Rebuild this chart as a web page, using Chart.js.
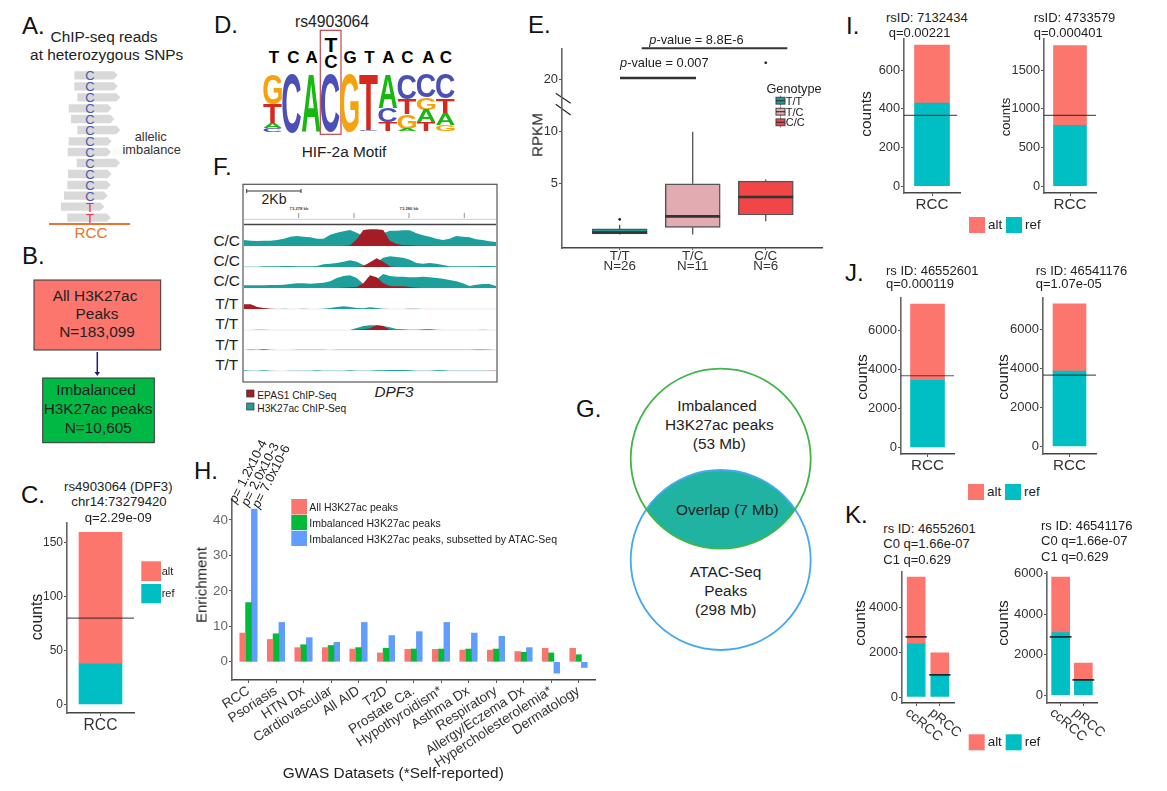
<!DOCTYPE html>
<html lang="en">
<head>
<meta charset="UTF-8">
<title>Allelic imbalance figure</title>
<script src="https://cdn.jsdelivr.net/npm/chart.js"></script>
<style>
  html, body { margin: 0; background: #fff; }
  #page { position: relative; width: 1167px; height: 791px; overflow: hidden; font-family: "Liberation Sans", Arial, sans-serif; color: #222; }
  #page canvas { position: absolute; }
  #page svg { position: absolute; left: 0; top: 0; pointer-events: none; }
  .t { position: absolute; white-space: nowrap; line-height: 1; }
</style>
</head>
<body>
<div id="page"></div>
<script>
// ---- data ----
const REF = '#00BFC4', ALT = '#FC766E';

// C
const cRef = [37.6], cAlt = [121.9], cMid = [80], cTicks = [0, 50, 100, 150];
// I
const iLeftRef = [430], iLeftAlt = [300], iLeftMid = [366], iLeftTicks = [0, 200, 400, 600];
const iRightRef = [786], iRightAlt = [1031], iRightMid = [915], iRightTicks = [0, 500, 1000, 1500];
// J
const jLeftRef = [3442], jLeftAlt = [3924], jLeftMid = [3683];
const jRightRef = [3867], jRightAlt = [3454], jRightMid = [3663], jTicks = [0, 2000, 4000, 6000];
// K
const kLabels = ['ccRCC', 'pRCC'];
const kLeftRef = [2382, 984], kLeftAlt = [2956, 984], kLeftMid = [2673, 984], kLeftTicks = [0, 2000, 4000];
const kRightRef = [3088, 770], kRightAlt = [2745, 813], kRightMid = [2873, 750], kRightTicks = [0, 2000, 4000, 6000];

// E (RPKM)
const boxLabels = [['T/T', 'N=26'], ['T/C', 'N=11'], ['C/C', 'N=6']];
const boxQ1 = [0.05, 0.7, 1.9], boxMedian = [0.2, 1.77, 3.65], boxQ3 = [0.55, 4.94, 5.2];
const whiskerLow = [0, 0, 1.29], whiskerHigh = [0.96, 10, 5.35];
const outlierGroup = [1, 3], outlierValue = [1.48, 23.1];
const boxColors = ['#1b9a98', '#e2abb1', '#f14548'];
const rpkmTicks = [5, 10, 20];

// H
const gwasLabels = ['RCC', 'Psoriasis', 'HTN Dx', 'Cardiovascular', 'All AID', 'T2D', 'Prostate Ca.', 'Hypothyroidism*', 'Asthma Dx', 'Respiratory', 'Allergy/Eczema Dx', 'Hypercholesterolemia*', 'Dermatology'];
const allPeaks = [8.1, 6.3, 4.0, 4.0, 3.6, 2.5, 3.5, 3.5, 3.3, 3.3, 2.9, 3.8, 3.8];
const imbalancedPeaks = [16.7, 7.9, 4.8, 4.6, 4.0, 3.8, 3.6, 3.6, 3.6, 3.6, 2.7, 2.5, 2.0];
const atacPeaks = [43.1, 11.1, 6.8, 5.5, 11.1, 7.4, 8.5, 11.1, 8.1, 7.2, 4.0, -3.2, -1.6];
const enrichTicks = [0, 10, 20, 30, 40];

// D: motif logo, letters top to bottom per position
const logoLetters = ['GTAC', 'C', 'A', 'C', 'G', 'TC', 'ACT', 'CTGA', 'CGAT', 'CTAG'];
const logoHeights = [[90, 56, 15, 10], [175], [170], [170], [170], [165, 5], [100, 43, 27], [75, 45, 43, 7], [70, 36, 37, 27], [73, 43, 35, 19]];
const logoColors = { G: '#f5a20b', C: '#4a50b6', A: '#17b80f', T: '#d5281e' };

// F: signal tracks along the locus
const track1Teal = [18,16,15,16,16,18,22,28,30,28,26,22,22,34,40,44,48,40,30,20,30,38,46,46,47,47,38,32,28,22,18,22,30,28,26,20,18,14,12];
const track1Red  = [0,0,0,0,0,0,0,0,0,0,0,0,0,0,0,0,2,20,48,50,50,48,16,6,3,2,1,1,1,0,0,0,0,0,0,0,0,0,0];
const track2Teal = [1,1,1,2,2,2,3,3,2,2,2,3,8,10,12,16,20,16,6,8,14,28,32,30,28,22,12,10,12,10,6,2,2,2,2,2,3,3,2];
const track2Red  = [0,0,0,0,0,0,0,0,0,0,0,0,0,0,0,0,0,0,2,14,26,16,2,0,0,0,0,0,0,0,0,0,0,0,0,0,0,0,0];
const track3Teal = [8,8,8,8,9,9,10,12,14,14,13,14,16,20,30,36,38,30,12,18,26,42,36,34,34,32,32,34,32,30,28,24,20,14,6,10,12,12,6];
const track3Red  = [0,0,0,0,0,0,0,0,0,0,0,0,0,0,0,1,2,3,14,38,32,14,6,5,5,3,1,0,0,0,0,0,0,0,0,0,0,0,0];
const track4Teal = [1,1,2,1,0,0,1,0,0,1,0,0,1,3,6,8,6,3,2,5,3,1,0,0,0,0,1,0,0,0,0,0,0,0,0,0,0,0,0];
const track4Red  = [14,14,6,3,1,0,0,0,0,0,0,0,0,0,0,0,0,0,0,0,0,0,0,0,0,1,0,0,0,0,0,0,0,0,0,0,0,0,0];
const track5Teal = [0,0,1,1,0,0,0,0,0,0,0,0,0,0,0,0,0,6,12,14,14,12,8,3,2,1,1,2,3,1,0,0,0,0,0,0,1,0,0];
const track5Red  = [0,0,0,0,0,0,0,0,0,0,0,0,0,0,0,0,0,1,2,5,14,12,1,0,0,0,0,0,0,0,0,0,0,0,0,0,0,0,0];
const track6Teal = [0,1,1,3,1,0,0,0,1,1,1,1,1,0,1,1,1,1,1,1,1,1,1,1,1,1,1,1,1,1,1,1,1,1,1,1,1,0,0];
const track6Red  = [0,1,0,0,0,0,0,0,0,0,0,0,0,0,0,0,0,0,0,0,0,0,0,0,0,0,0,0,0,0,0,0,0,0,0,1,1,1,0];
const track7Teal = [2,1,1,2,1,0,0,1,1,1,1,2,1,1,1,1,2,1,1,1,2,2,3,3,3,2,1,1,1,2,2,1,1,1,1,1,1,0,0];
const track7Red  = [0,0,0,0,0,0,0,0,0,0,0,0,0,0,0,0,0,0,0,0,0,0,0,0,0,0,0,0,0,0,0,0,0,0,0,0,0,1,1];
const tracks = [[track1Teal, track1Red], [track2Teal, track2Red], [track3Teal, track3Red], [track4Teal, track4Red], [track5Teal, track5Red], [track6Teal, track6Red], [track7Teal, track7Red]];
const trackGenotypes = ['C/C', 'C/C', 'C/C', 'T/T', 'T/T', 'T/T', 'T/T'];

// ---- helpers ----
const page = document.getElementById('page');
const NS = 'http://www.w3.org/2000/svg';
const overlay = document.createElementNS(NS, 'svg');
overlay.setAttribute('width', 1167);
overlay.setAttribute('height', 791);
page.appendChild(overlay);

Chart.defaults.font.family = '"Liberation Sans", Arial, sans-serif';
Chart.defaults.color = '#333';
Chart.defaults.animation = false;
Chart.defaults.responsive = false;
Chart.defaults.plugins.legend.display = false;
Chart.defaults.plugins.tooltip.enabled = false;

function text(x, y, str, size, o = {}) {
  const d = document.createElement('div');
  d.className = 't';
  d.innerHTML = str;
  d.style.left = x + 'px';
  d.style.top = y + 'px';
  d.style.fontSize = size + 'px';
  if (o.color) d.style.color = o.color;
  if (o.weight) d.style.fontWeight = o.weight;
  if (o.italic) d.style.fontStyle = 'italic';
  const ax = o.left ? 0 : -50;
  if (o.left) d.style.transformOrigin = 'left center';
  d.style.transform = `translate(${ax}%, -50%) rotate(${o.rot || 0}deg)`;
  page.appendChild(d);
}
function shape(tag, attrs) {
  const el = document.createElementNS(NS, tag);
  for (const k in attrs) el.setAttribute(k, attrs[k]);
  overlay.appendChild(el);
  return el;
}
const rect = (x, y, w, h, fill, extra = {}) => shape('rect', { x, y, width: w, height: h, fill, ...extra });
const line = (x1, y1, x2, y2, stroke, w = 1) => shape('line', { x1, y1, x2, y2, stroke, 'stroke-width': w });

function canvas(left, top, w, h) {
  const c = document.createElement('canvas');
  c.width = w;
  c.height = h;
  c.style.left = left + 'px';
  c.style.top = top + 'px';
  page.appendChild(c);
  return c;
}

// x is linear with one unit per group, ticks come from the named lists
function scales(o) {
  return {
    x: {
      type: 'linear', min: o.xMin, max: o.xMax, offset: false,
      afterFit: s => { s.height = o.below; },
      afterBuildTicks: s => { s.ticks = o.labels.map((_, i) => ({ value: i + 1 })); },
      border: { color: '#444', width: 1.4 },
      grid: { offset: false, drawOnChartArea: false, tickLength: 3, tickColor: '#555' },
      ticks: {
        autoSkip: false, padding: o.xPad || 0, display: !o.slant,
        minRotation: o.rot || 0, maxRotation: o.rot || 0,
        font: { size: o.xSize, lineHeight: o.xLine || 1.2 }, color: '#333',
        callback: v => o.labels[v - 1]
      }
    },
    y: {
      min: o.yMin, max: o.yMax,
      afterFit: s => { s.width = o.gutter; },
      afterBuildTicks: s => { s.ticks = o.yTicks.map(v => ({ value: v })); },
      border: { color: '#666', width: 1.6 },
      grid: { drawOnChartArea: false, tickLength: 3, tickColor: '#555' },
      ticks: {
        padding: 1, font: { size: o.ySize }, color: o.yColor || '#333',
        callback: o.yLabel || (v => v)
      }
    }
  };
}

// tick labels leaning down to the right, the library only leans them the other way
const slantLabels = {
  id: 'slantLabels',
  afterDraw(chart, args, opts) {
    const sx = chart.scales.x, ctx = chart.ctx;
    if (!opts.labels) return;
    sx.ticks.forEach(t => {
      ctx.save();
      ctx.translate(sx.getPixelForValue(t.value) - 9, sx.top + 8);
      ctx.rotate(40 * Math.PI / 180);
      ctx.font = '13.7px "Liberation Sans"';
      ctx.fillStyle = '#333';
      ctx.textBaseline = 'middle';
      ctx.fillText(opts.labels[t.value - 1], 0, 0);
      ctx.restore();
    });
  }
};
Chart.register(slantLabels);

// stacked ref/alt bars with the half-total line on top
function countChart(o) {
  const gutter = 46, pad = 8, right = 24;
  const w = o.right - o.left, h = o.bottom - o.top;
  const below = o.slant ? 50 : 28;
  const labels = o.labels || ['RCC'];
  const xMin = 0.4, xMax = labels.length + 0.6;
  const midPoints = [];
  o.mid.forEach((v, i) => {
    const half = o.lineHalf;
    if (half) {
      midPoints.push({ x: i + 1 - half, y: v }, { x: i + 1 + half, y: v }, { x: i + 1.5, y: null });
    } else {
      midPoints.push({ x: xMin, y: v }, { x: xMax - (o.lineCut || 0), y: v });
    }
  });
  new Chart(canvas(o.left - gutter, o.top - pad, gutter + w + right, pad + h + below), {
    type: 'bar',
    data: {
      datasets: [
        { type: 'line', data: midPoints, borderColor: o.lineHalf ? 'rgba(20,20,20,.85)' : 'rgba(20,20,20,.7)', borderWidth: o.lineHalf ? 1.8 : 1.1, pointRadius: 0, order: 0 },
        { label: 'ref', stack: 's', data: o.ref.map((v, i) => ({ x: i + 1, y: v })), backgroundColor: REF, barThickness: o.thick, order: 1 },
        { label: 'alt', stack: 's', data: o.alt.map((v, i) => ({ x: i + 1, y: v })), backgroundColor: ALT, barThickness: o.thick, order: 1 }
      ]
    },
    options: {
      layout: { padding: { top: pad, right, left: 0, bottom: 0 } },
      plugins: { slantLabels: { labels: o.slant ? labels : null } },
      scales: (() => {
        const s = scales({ xMin, xMax, labels, below, gutter, slant: o.slant, xSize: o.xSize || 15.2, yMin: o.yMin, yMax: o.yMax, yTicks: o.yTicks, ySize: o.ySize || 12.8 });
        s.y.stacked = true;
        return s;
      })()
    }
  });
}

function legendAltRef(x, y, size = 13.4) {
  rect(x, y, 16, 16, ALT);
  text(x + 19, y + 8, 'alt', size, { left: true });
  rect(x + 37, y, 16, 16, REF);
  text(x + 56, y + 8, 'ref', size, { left: true });
}

// ---- panel letters ----
[['A.', 22, 26], ['D.', 214, 25], ['F.', 213, 167], ['B.', 22, 256], ['C.', 21, 495], ['E.', 528, 25], ['G.', 576, 409], ['H.', 194, 471], ['I.', 846, 26], ['J.', 845, 273], ['K.', 845, 515]]
  .forEach(([s, x, y]) => text(x, y, s, 24, { left: true, color: '#111' }));

// ---- A ----
const readRows = [[223,353,226,'C'],[223,353,259,'C'],[232,361,292,'C'],[206,335,325,'C'],[213,343,357,'C'],[232,361,390,'C'],[206,335,424,'C'],[203,333,456,'C'],[230,360,489,'C'],[204,335,522,'C'],[202,332,555,'C'],[192,323,587,'C'],[183,313,620,'T'],[202,332,653,'T']];
readRows.forEach(([a, b, y, base]) => {
  const l = a / 3, r = b / 3, m = y / 3;
  shape('polygon', { points: `${l},${m - 4.2} ${r - 4},${m - 4.2} ${r},${m} ${r - 4},${m + 4.2} ${l},${m + 4.2}`, fill: '#d9d9d9' });
  text(90, m, base, 13, { color: base === 'T' ? '#e8334a' : '#4a5ab0' });
});
text(104, 37, 'ChIP-seq reads', 15.4);
text(106.7, 55.3, 'at heterozygous SNPs', 15.4);
text(150.7, 137, 'allelic', 12.8, { color: '#333' });
text(151.7, 150, 'imbalance', 12.8, { color: '#333' });
line(49, 224, 130, 224, '#e8742f', 2);
text(91, 233, 'RCC', 15.2, { color: '#e8742f' });

// ---- B ----
rect(34, 280, 126.7, 70, ALT, { stroke: '#333', 'stroke-width': 1 });
rect(42.7, 378, 111.6, 64.7, '#00B945', { stroke: '#333', 'stroke-width': 1 });
line(97.3, 352, 97.3, 372, '#221a6e', 1.5);
shape('polygon', { points: '94.5,372 100,372 97.3,376', fill: '#221a6e' });
text(95, 295.7, 'All H3K27ac', 15.4);
text(97, 314, 'Peaks', 15.4);
text(97, 332.3, 'N=183,099', 15.4);
text(96, 390, 'Imbalanced', 15.4);
text(98, 409, 'H3K27ac peaks', 15.4);
text(98.3, 427.7, 'N=10,605', 15.4);

// ---- C ----
countChart({ left: 67, right: 134, top: 523, bottom: 713, ref: cRef, alt: cAlt, mid: cMid, yMin: -8, yMax: 168, yTicks: cTicks, thick: 43, ySize: 12, xSize: 15.6 });
text(118.3, 486.7, 'rs4903064 (DPF3)', 13.2);
text(119, 501.7, 'chr14:73279420', 13.2);
text(118.3, 517.7, 'q=2.29e-09', 13.2);
text(36.5, 616.7, 'counts', 15.8, { rot: -90 });
rect(141.3, 561.3, 19.7, 19.7, ALT);
rect(141.3, 584, 19.7, 19.3, REF);
text(161.7, 571, 'alt', 11, { left: true });
text(161.7, 593.3, 'ref', 11, { left: true });

// ---- D ----
const logoLetterPlugin = {
  id: 'logoLetters',
  afterDatasetsDraw(chart) {
    const ctx = chart.ctx;
    ctx.font = 'bold 100px "Liberation Sans"';
    chart.data.datasets.forEach((ds, di) => {
      chart.getDatasetMeta(di).data.forEach((bar, col) => {
        const letter = logoLetters[col][di];
        if (!letter) return;
        const top = Math.min(bar.y, bar.base), h = Math.abs(bar.base - bar.y), w = bar.width;
        const m = ctx.measureText(letter);
        const inkW = m.actualBoundingBoxLeft + m.actualBoundingBoxRight;
        const inkH = m.actualBoundingBoxAscent + m.actualBoundingBoxDescent;
        ctx.save();
        ctx.translate(bar.x - w / 2, top);
        ctx.scale(w / inkW, h / inkH);
        ctx.fillStyle = logoColors[letter];
        ctx.fillText(letter, m.actualBoundingBoxLeft, m.actualBoundingBoxAscent);
        ctx.restore();
      });
    });
  }
};
new Chart(canvas(263, 74, 192, 59), {
  type: 'bar',
  data: {
    labels: logoLetters.map((_, i) => i + 1),
    datasets: [0, 1, 2, 3].map(level => ({
      data: logoHeights.map(col => col[level] || 0),
      backgroundColor: 'transparent',
      categoryPercentage: 1, barPercentage: 0.97
    }))
  },
  options: {
    layout: { padding: 0 },
    scales: {
      x: { display: false, stacked: true },
      y: { display: false, stacked: true, reverse: true, min: 0, max: 175 }
    }
  },
  plugins: [logoLetterPlugin]
});
text(332, 21.7, 'rs4903064', 15.7);
[['T', 192], ['C', 250], ['A', 305], ['G', 420], ['T', 478], ['A', 535], ['C', 592], ['A', 655], ['C', 708]]
  .forEach(([s, zx]) => text(210 + zx / 3, 56.7, s, 17, { weight: 'bold', color: '#000' }));
text(331, 43.5, 'T', 21, { weight: 'bold', color: '#000' });
text(331, 61.7, 'C', 18.5, { weight: 'bold', color: '#000' });
rect(320.3, 30.3, 20.7, 104, 'none', { stroke: '#c4444e', 'stroke-width': 1.2 });
text(344, 152, 'HIF-2a Motif', 15.4);

// ---- F ----
rect(243, 184.3, 254, 197.7, 'none', { stroke: '#555', 'stroke-width': 1.2 });
line(246.7, 191, 301, 191, '#333', 1);
line(246.7, 189, 246.7, 193, '#333', 1);
line(301, 189, 301, 193, '#333', 1);
text(274, 199, '2Kb', 14);
text(299, 209.3, '73,278 kb', 4.2, { weight: 'bold', color: '#444' });
text(409, 209.3, '73,280 kb', 4.2, { weight: 'bold', color: '#444' });
[298.7, 354, 409, 464.3].forEach(x => line(x, 213, x, 218, '#777', 0.8));
line(244, 219.3, 496, 219.3, '#d5d5e5', 1.2);
line(244, 224.5, 496, 224.5, '#444', 1.4);

const trackBase = [246, 267, 287.7, 308.7, 329.7, 350.3, 371.3];
const trackLabelY = [240.7, 261.3, 281, 304, 324, 345.3, 365];
tracks.forEach(([teal, red], i) => {
  const top = Math.round(trackBase[i]) - 18;
  line(244, Math.round(trackBase[i]), 496, Math.round(trackBase[i]), '#e4e4e8', 0.8);
  new Chart(canvas(244, top, 252, 18), {
    type: 'line',
    data: {
      labels: teal.map((_, k) => k),
      datasets: [
        { data: red, fill: 'origin', backgroundColor: '#a31c26', borderWidth: 0, pointRadius: 0 },
        { data: teal, fill: 'origin', backgroundColor: '#1d9f9c', borderWidth: 0, pointRadius: 0 }
      ]
    },
    options: {
      layout: { padding: 0 },
      scales: { x: { display: false }, y: { display: false, min: 0, max: 54 } }
    }
  });
  text(226.7, trackLabelY[i], trackGenotypes[i], 15.4);
});
rect(246.7, 390, 7.3, 7, '#a31c26', { stroke: '#333', 'stroke-width': 0.7 });
rect(246.7, 403, 7.3, 7, '#1d9f9c', { stroke: '#333', 'stroke-width': 0.7 });
text(257.3, 395.7, 'EPAS1 ChIP-Seq', 10.2, { left: true });
text(257.3, 408.5, 'H3K27ac ChIP-Seq', 10.2, { left: true });
text(394, 392, 'DPF3', 15.3, { italic: true });

// ---- E ----
// values above the break are squeezed, ticks go through the same mapping
const squash = v => (v <= 10 ? v : 10 + (v - 10) * 0.513);
const centers = boxLabels.map((_, i) => i + 1);
const whiskers = [];
centers.forEach((x, i) => {
  whiskers.push({ x, y: whiskerLow[i] }, { x, y: boxQ1[i] }, { x, y: null }, { x, y: boxQ3[i] }, { x, y: whiskerHigh[i] }, { x, y: null });
});
const medians = [];
centers.forEach((x, i) => {
  medians.push({ x: x - 0.375, y: boxMedian[i] }, { x: x + 0.375, y: boxMedian[i] }, { x, y: null });
});
const eScales = scales({
  xMin: 0.21, xMax: 3.77, labels: boxLabels, below: 42, gutter: 40, xSize: 13.4, xLine: 0.76, xPad: 1,
  yMin: -1.31, yMax: 18.08, yTicks: rpkmTicks.map(squash), ySize: 12.9, yColor: '#333',
  yLabel: (v, i) => rpkmTicks[i]
});
eScales.x.grid.tickLength = 2;
new Chart(canvas(522, 40, 310, 250), {
  type: 'bar',
  data: {
    datasets: [
      { type: 'scatter', showLine: true, data: medians, borderColor: '#333', borderWidth: 2.6, pointRadius: 0, order: 0 },
      { type: 'scatter', data: outlierGroup.map((x, i) => ({ x, y: squash(outlierValue[i]) })), backgroundColor: '#222', pointRadius: 1.3, order: 0 },
      { data: centers.map((x, i) => ({ x, y: [boxQ1[i], boxQ3[i]] })), backgroundColor: boxColors, borderColor: '#555', borderWidth: 1.5, borderSkipped: false, barThickness: 55, order: 1 },
      { type: 'scatter', showLine: true, data: whiskers, borderColor: '#444', borderWidth: 1.2, pointRadius: 0, order: 2 }
    ]
  },
  options: { layout: { padding: { top: 8, right: 10 } }, scales: eScales }
});
text(536.5, 134.5, 'RPKM', 15.2, { rot: -90 });
line(555.7, 93.3, 570.7, 103.3, '#222', 1.1);
line(555.7, 104.3, 570.7, 115, '#222', 1.1);
line(641.7, 48.3, 787.3, 48.3, '#333', 2);
line(620, 78, 696, 78, '#333', 2.4);
text(649.3, 40, '<i>p</i>-value = 8.8E-6', 12.8, { left: true });
text(620, 63.3, '<i>p</i>-value = 0.007', 12.8, { left: true });
text(794, 88.7, 'Genotype', 12.7);
['T/T', 'T/C', 'C/C'].forEach((s, i) => {
  const y = [100.7, 111.7, 122.3][i];
  line(780.5, y - 5, 780.5, y + 5, '#444', 0.8);
  rect(776, y - 3.4, 9, 6.8, boxColors[i], { stroke: '#444', 'stroke-width': 1 });
  line(776, y, 785, y, '#333', 1.2);
  text(785.7, y, s, 11, { left: true });
});

// ---- G ----
const lensClip = shape('clipPath', { id: 'lens' });
const clipCircle = document.createElementNS(NS, 'circle');
clipCircle.setAttribute('cx', 720.7); clipCircle.setAttribute('cy', 458.7); clipCircle.setAttribute('r', 90);
lensClip.appendChild(clipCircle);
shape('circle', { cx: 720.7, cy: 560, r: 90, fill: '#21b3a2', 'clip-path': 'url(#lens)' });
shape('circle', { cx: 720.7, cy: 560, r: 90, fill: 'none', stroke: '#45a9ee', 'stroke-width': 1.8 });
shape('circle', { cx: 720.7, cy: 458.7, r: 90, fill: 'none', stroke: '#3fb54a', 'stroke-width': 1.8 });
text(717, 406, 'Imbalanced', 15.4);
text(719.3, 425, 'H3K27ac peaks', 15.4);
text(719.3, 443.7, '(53 Mb)', 15.4);
text(727.3, 510, 'Overlap (7 Mb)', 15.4);
text(725.7, 572.3, 'ATAC-Seq', 15.4);
text(725.7, 591, 'Peaks', 15.4);
text(725.7, 610, '(298 Mb)', 15.4);

// ---- H ----
const hScales = scales({
  xMin: 0.4, xMax: 13.6, labels: gwasLabels, below: 95, gutter: 40, xSize: 13.6, rot: 33,
  yMin: -5.13, yMax: 45.9, yTicks: enrichTicks, ySize: 13.4, yColor: '#666'
});
new Chart(canvas(192, 490, 435, 8 + 182 + 95), {
  type: 'bar',
  data: {
    datasets: [
      { data: allPeaks.map((y, i) => ({ x: i + 1, y })), backgroundColor: '#F8766D', barThickness: 5.8 },
      { data: imbalancedPeaks.map((y, i) => ({ x: i + 1, y })), backgroundColor: '#00BA38', barThickness: 5.8 },
      { data: atacPeaks.map((y, i) => ({ x: i + 1, y })), backgroundColor: '#619CFF', barThickness: 5.8 }
    ]
  },
  options: { layout: { padding: { top: 8, right: 32 } }, scales: hScales }
});
text(200.5, 584.5, 'Enrichment', 15, { rot: -90 });
text(393.3, 772.7, 'GWAS Datasets (*Self-reported)', 15.4);
rect(291.3, 499, 15.7, 15.5, '#F8766D');
rect(291.3, 515, 15.7, 15, '#00BA38');
rect(291.3, 530.7, 15.7, 15.3, '#619CFF');
text(309.3, 506.5, 'All H3K27ac peaks', 10.5, { left: true });
text(309.3, 522.5, 'Imbalanced H3K27ac peaks', 10.5, { left: true });
text(309.3, 539, 'Imbalanced H3K27ac peaks, subsetted by ATAC-Seq', 10.5, { left: true });
text(231.7, 501.7, '<i>p</i>= 1.2x10-4', 13, { left: true, rot: -63 });
text(244.3, 505, '<i>p</i>= 2.0x10-3', 13, { left: true, rot: -63 });
text(255, 506.7, '<i>p</i>= 7.0x10-6', 13, { left: true, rot: -63 });

// ---- I ----
countChart({ left: 904, right: 960, top: 38, bottom: 193, ref: iLeftRef, alt: iLeftAlt, mid: iLeftMid, yMin: -36, yMax: 763, yTicks: iLeftTicks, thick: 35, lineCut: 0.06 });
countChart({ left: 1044, right: 1096, top: 38, bottom: 193, ref: iRightRef, alt: iRightAlt, mid: iRightMid, yMin: -90, yMax: 1907, yTicks: iRightTicks, thick: 33 });
text(886, 17, 'rsID: 7132434', 13, { left: true });
text(888.7, 31.7, 'q=0.00221', 13, { left: true });
text(1033.7, 17, 'rsID: 4733579', 13, { left: true });
text(1033.7, 31.7, 'q=0.000401', 13, { left: true });
text(866, 114, 'counts', 15.5, { rot: -90 });
text(1005, 117, 'counts', 13, { rot: -90 });
legendAltRef(969, 217);

// ---- J ----
countChart({ left: 901, right: 954, top: 297, bottom: 454, ref: jLeftRef, alt: jLeftAlt, mid: jLeftMid, yMin: -343, yMax: 7688, yTicks: jTicks, thick: 34, ySize: 13 });
countChart({ left: 1043, right: 1096, top: 297, bottom: 454, ref: jRightRef, alt: jRightAlt, mid: jRightMid, yMin: -383, yMax: 7628, yTicks: jTicks, thick: 33, ySize: 13 });
text(886, 270, 'rs ID: 46552601', 13, { left: true });
text(886, 283.3, 'q=0.000119', 13, { left: true });
text(1035.7, 270, 'rs ID: 46541176', 13, { left: true });
text(1035.7, 283.3, 'q=1.07e-05', 13, { left: true });
text(861.7, 377.3, 'counts', 15.5, { rot: -90 });
text(1003.3, 376.7, 'counts', 15.5, { rot: -90 });
legendAltRef(968, 484);

// ---- K ----
countChart({ left: 902, right: 954, top: 571, bottom: 703, labels: kLabels, slant: true, ref: kLeftRef, alt: kLeftAlt, mid: kLeftMid, lineHalf: 0.45, yMin: -265, yMax: 5571, yTicks: kLeftTicks, thick: 18, ySize: 13 });
countChart({ left: 1047, right: 1097, top: 571, bottom: 703, labels: kLabels, slant: true, ref: kRightRef, alt: kRightAlt, mid: kRightMid, lineHalf: 0.48, yMin: -392, yMax: 6093, yTicks: kRightTicks, thick: 18, ySize: 13 });
text(883.3, 528.3, 'rs ID: 46552601', 13, { left: true });
text(883.3, 543.3, 'C0 q=1.66e-07', 13, { left: true });
text(883.3, 559, 'C1 q=0.629', 13, { left: true });
text(1041, 525, 'rs ID: 46541176', 13, { left: true });
text(1041, 540, 'C0 q=1.66e-07', 13, { left: true });
text(1041, 555.7, 'C1 q=0.629', 13, { left: true });
text(860, 623.3, 'counts', 15.5, { rot: -90 });
text(1003.3, 623.3, 'counts', 15.5, { rot: -90 });
legendAltRef(968.7, 734.3);
</script>
</body>
</html>
